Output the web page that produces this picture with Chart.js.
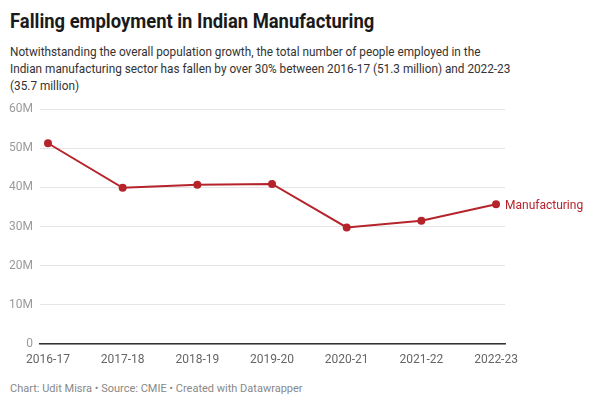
<!DOCTYPE html>
<html>
<head>
<meta charset="utf-8">
<script src="https://cdn.jsdelivr.net/npm/chart.js@4/dist/chart.umd.min.js"></script>
<style>
  body { margin: 0; background: #fff; font-family: Roboto, sans-serif; }
  #wrap { position: relative; width: 600px; height: 406px; overflow: hidden; }
  h1 { position: absolute; left: 10px; top: 11px; margin: 0; font-size: 20px; line-height: 20px; font-weight: 700; color: #1a1a1a; white-space: nowrap; transform: scaleX(0.92); transform-origin: left top; }
  #sub { position: absolute; left: 10px; top: 43px; font-size: 13px; line-height: 17px; color: #333; white-space: nowrap; transform: scaleX(0.906); transform-origin: left top; }
  #foot { position: absolute; left: 10px; top: 382px; font-size: 11px; color: #888; }
  #box { position: absolute; left: 0; top: 95px; width: 600px; height: 275px; }
</style>
</head>
<body>
<div id="wrap">
  <h1>Falling employment in Indian Manufacturing</h1>
  <div id="sub">Notwithstanding the overall population growth, the total number of people employed in the<br>Indian manufacturing sector has fallen by over 30% between 2016-17 (51.3 million) and 2022-23<br>(35.7 million)</div>
  <div id="box"><canvas id="chart"></canvas></div>
  <div id="foot">Chart: Udit Misra • Source: CMIE • Created with Datawrapper</div>
</div>
<script>
// data (millions of people employed)
const years = ['2016-17', '2017-18', '2018-19', '2019-20', '2020-21', '2021-22', '2022-23'];
const manufacturing = [51.3, 39.9, 40.7, 40.9, 29.8, 31.5, 35.7];
const yTicks = [0, 10, 20, 30, 40, 50, 60];

const red = '#b5242b';

// label next to the last point
const endLabel = {
    id: 'endLabel',
    afterDatasetsDraw(chart) {
        const meta = chart.getDatasetMeta(0);
        const last = meta.data[meta.data.length - 1];
        const c = chart.ctx;
        c.save();
        c.font = '12px Roboto';
        c.fillStyle = red;
        c.textBaseline = 'middle';
        c.fillText('Manufacturing', last.x + 9, last.y + 2);
        c.restore();
    }
};

const ctx = document.getElementById('chart').getContext('2d');
new Chart(ctx, {
    type: 'line',
    data: {
        datasets: [{
            label: 'Manufacturing',
            data: manufacturing.map((v, i) => ({ x: i, y: v })),
            borderColor: red,
            backgroundColor: red,
            borderWidth: 2,
            pointRadius: 3,
            pointHoverRadius: 3,
            tension: 0
        }]
    },
    options: {
        responsive: true,
        maintainAspectRatio: false,
        animation: false,
        layout: { padding: { top: 14, right: 95, left: 0, bottom: 0 } },
        scales: {
            x: {
                type: 'linear',
                min: -0.107,
                max: 6.12,
                afterBuildTicks: axis => { axis.ticks = years.map((y, i) => ({ value: i })); },
                afterFit: axis => { axis.height = 26; },
                grid: { display: false },
                border: { display: true, color: '#333', width: 1.5 },
                ticks: {
                    callback: v => years[v],
                    color: '#666',
                    font: { family: 'Roboto', size: 12 },
                    padding: 1,
                    maxRotation: 0,
                    autoSkip: false
                }
            },
            y: {
                min: 0,
                max: 60,
                afterBuildTicks: axis => { axis.ticks = yTicks.map(v => ({ value: v })); },
                afterFit: axis => { axis.width = 40; },
                grid: { color: '#e5e5e5', drawTicks: false },
                border: { display: false },
                ticks: {
                    callback: v => v === 0 ? '0' : v + 'M',
                    color: '#9a9a9a',
                    font: { family: 'Roboto', size: 12 },
                    padding: 7
                }
            }
        },
        plugins: {
            legend: { display: false },
            tooltip: { enabled: false }
        }
    },
    plugins: [endLabel]
});
</script>
</body>
</html>
